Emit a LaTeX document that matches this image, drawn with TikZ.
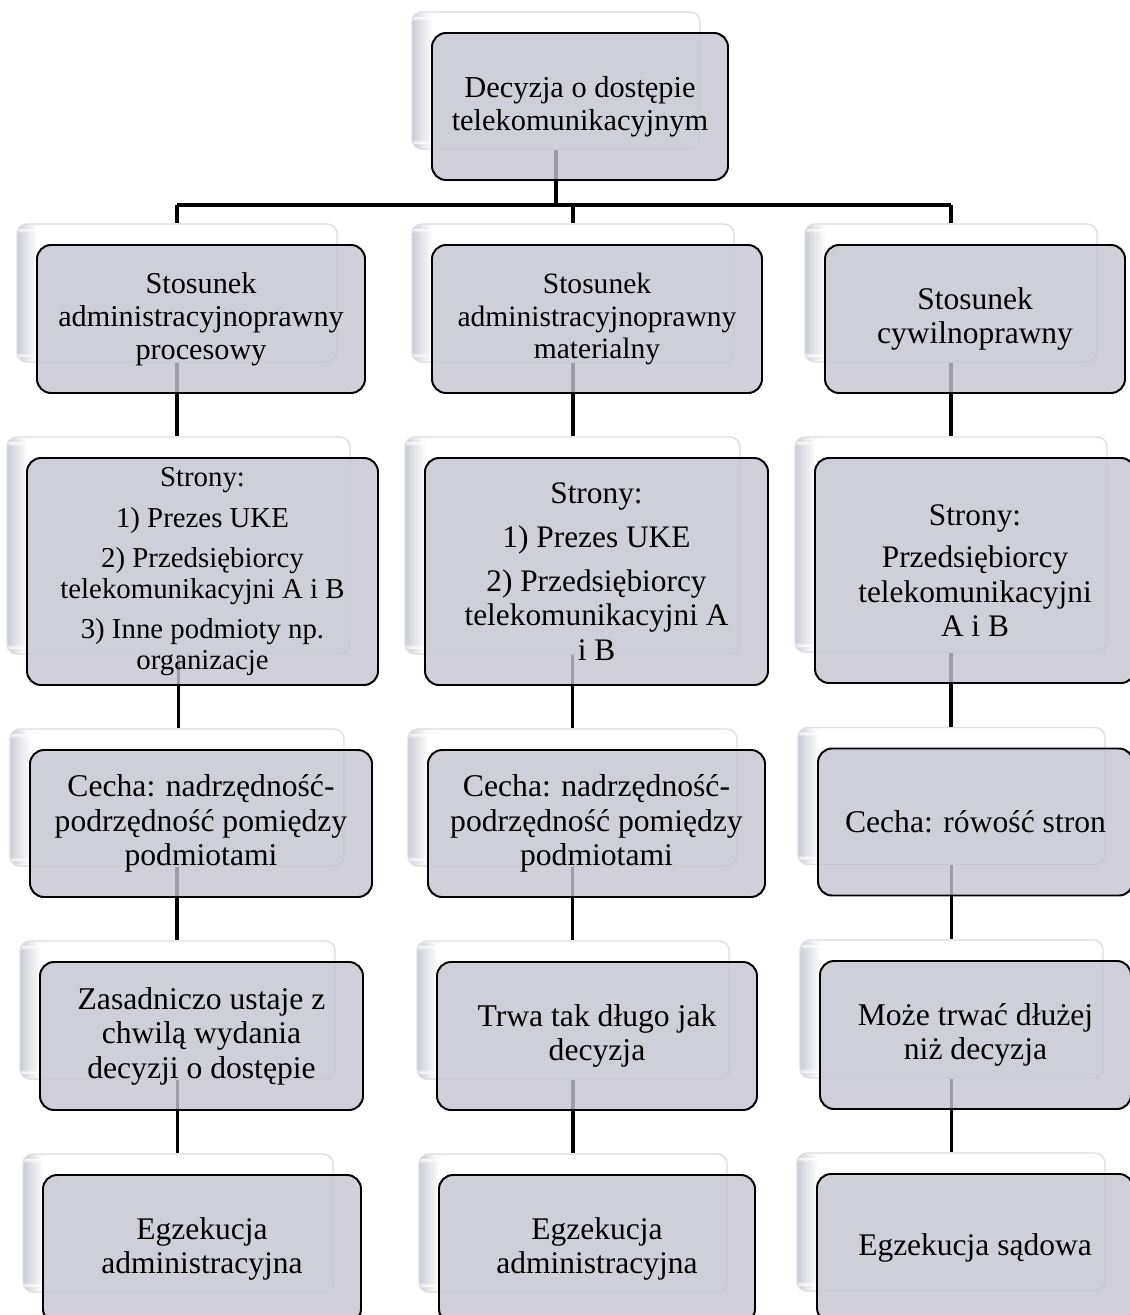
\documentclass[tikz,border=0pt]{standalone}
\usepackage{fontspec}
\setmainfont{Liberation Serif}
\usetikzlibrary{positioning,calc}

\definecolor{cardfill}{HTML}{C4C3D1}
\definecolor{ghostedge}{HTML}{DDDDE3}
\definecolor{ghostshade}{HTML}{CDCDD8}

\begin{document}
\begin{tikzpicture}[x=0.025cm,y=-0.025cm,
    ghost/.style={draw=ghostedge, line width=1pt, fill=white, rounded corners=7pt, inner sep=0pt,
      path picture={\foreach \k in {0,...,9} {
          \pgfmathtruncatemacro\pct{100-10*\k}
          \fill[ghostshade!\pct!white] ([xshift=\k*0.05cm]path picture bounding box.south west)
            rectangle ([xshift=\k*0.05cm+0.05cm]path picture bounding box.north west);}}},
    card/.style={draw=black, line width=1.4pt, fill=cardfill, fill opacity=0.8, text opacity=1,
      draw opacity=1, rounded corners=10pt, align=center, inner sep=0pt},
    link/.style={line width=2.2pt}]
    \useasboundingbox (0,0) rectangle (1130,1315);

    % back boxes
    \foreach \n/\x/\y/\w/\h in {dec/580/106.5/296/147,
        a1/201/319/328/148, b1/597/319/330/148, c1/975/319/300/148,
        a2/202.5/571.5/351/227, b2/596.5/571.5/343/227, c2/975/570.5/320/225,
        a3/201/823.5/342/147, b3/596.5/823.5/337/147, c3/975.5/822/315/147,
        a4/201.5/1036/323/148, b4/597/1036/320/148, c4/975.5/1035/311/148,
        a5/202/1249/318/148, b5/597/1249/316/148, c5/975/1248/316/148}
      \node[ghost, minimum width={(\w-8)*0.025cm}, minimum height={(\h-10)*0.025cm}] (g\n) at ({\x-24},{\y-26}) {};

    % connectors
    \coordinate (bar) at (0,205);
    \draw[link] (gdec.south) -- (gdec.south |- bar);
    \draw[link] (ga1.north |- bar) -- (gc1.north |- bar);
    \foreach \col in {a,b,c} {
      \draw[link] (g\col1.north |- bar) -- (g\col1.north);
      \foreach \row [count=\nxt from 2] in {1,...,4}
        \draw[link] (g\col\row.south) -- (g\col\row.south |- g\col\nxt.north);
    }

    % front boxes
    \foreach \n/\x/\y/\w/\h/\fs/\txt in {
        dec/580/106.5/296/147/21.6/{Decyzja o dostępie\\telekomunikacyjnym},
        a1/201/319/328/148/21.5/{Stosunek\\administracyjnoprawny\\procesowy},
        b1/597/319/330/148/21/{Stosunek\\administracyjnoprawny\\materialny},
        c1/975/319/300/148/22.4/{Stosunek\\cywilnoprawny},
        a2/202.5/571.5/351/227/20.5/{Strony:\\[7pt]1) Prezes UKE\\[6pt]2) Przedsiębiorcy\\telekomunikacyjni A i B\\[6pt]3) Inne podmioty np.\\organizacje},
        b2/596.5/571.5/343/227/22.3/{Strony:\\[7pt]1) Prezes UKE\\[7pt]2) Przedsiębiorcy\\telekomunikacyjni A\\i B},
        c2/975/570.5/320/225/22.3/{Strony:\\[6pt]Przedsiębiorcy\\telekomunikacyjni\\A i B},
        a3/201/823.5/342/147/22.5/{Cecha: nadrzędność-\\podrzędność pomiędzy\\podmiotami},
        b3/596.5/823.5/337/147/22.5/{Cecha: nadrzędność-\\podrzędność pomiędzy\\podmiotami},
        c3/975.5/822/315/147/22.5/{Cecha: rówość stron},
        a4/201.5/1036/323/148/22.5/{Zasadniczo ustaje z\\chwilą wydania\\decyzji o dostępie},
        b4/597/1036/320/148/22.5/{Trwa tak długo jak\\decyzja},
        c4/975.5/1035/311/148/22.5/{Może trwać dłużej\\niż decyzja},
        a5/202/1249/318/148/22.4/{Egzekucja\\administracyjna},
        b5/597/1249/316/148/22.4/{Egzekucja\\administracyjna},
        c5/975/1248/316/148/22.4/{Egzekucja sądowa}} {
      \pgfmathsetmacro\bs{1.09*\fs}
      \node[card, minimum width=\w*0.025cm, minimum height=\h*0.025cm,
        font=\fontsize{\fs}{\bs}\selectfont] (\n) at (\x,\y) {\txt};
    }
\end{tikzpicture}
\end{document}
